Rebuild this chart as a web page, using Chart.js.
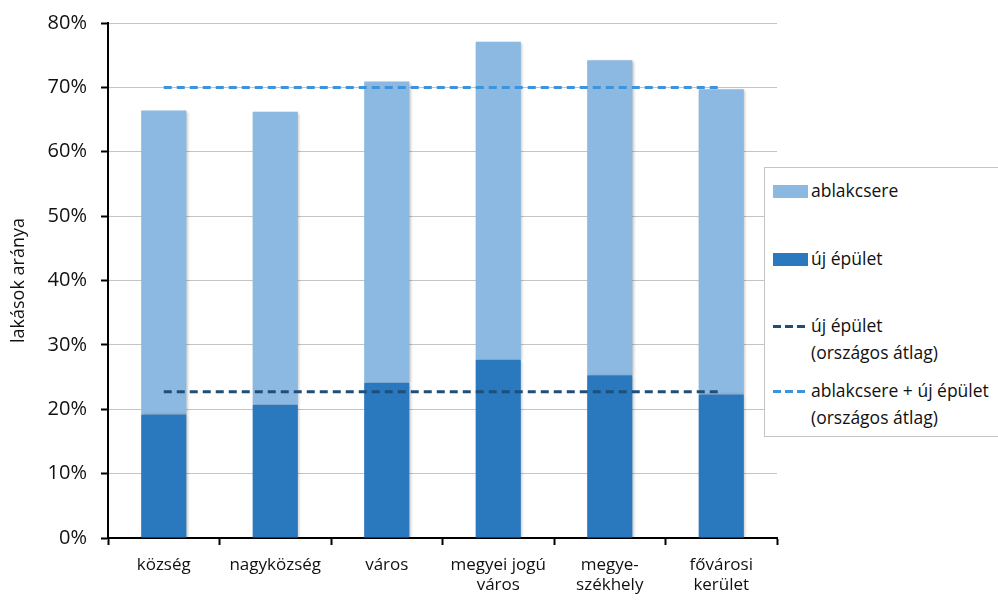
<!DOCTYPE html>
<html>
<head>
<meta charset="utf-8">
<script src="https://cdn.jsdelivr.net/npm/chart.js@4/dist/chart.umd.min.js"></script>
<style>
  html, body { margin: 0; padding: 0; background: #fff; }
  #wrap { position: relative; width: 998px; height: 600px; }
  #legend {
    position: absolute; left: 764px; top: 167px; width: 240px; height: 270px;
    box-sizing: border-box; border: 1px solid #c4c4c4; background: #fff;
    font-family: "Open Sans", sans-serif; font-size: 17.5px; color: #111;
  }
  .item { position: absolute; left: 8px; display: flex; align-items: flex-start; line-height: 27px; white-space: nowrap; }
  .sw { width: 35px; height: 13px; margin-top: 8px; margin-right: 3px; flex: none; }
  .dash { width: 35px; height: 3px; margin-top: 13px; margin-right: 3px; flex: none; }
</style>
</head>
<body>
<div id="wrap">
  <canvas id="c" width="998" height="600"></canvas>
  <div id="legend"></div>
</div>
<script>
// settlement types
const categories = [
  "község",
  "nagyközség",
  "város",
  ["megyei jogú", "város"],
  ["megye-", "székhely"],
  ["fővárosi", "kerület"]
];
// share of dwellings (%)
const ujEpulet    = [19.2, 20.7, 24.1, 27.7, 25.3, 22.3];
const ablakcsere  = [47.2, 45.5, 46.8, 49.4, 48.9, 47.4];
// national averages (%)
const ujEpuletAtlag = 22.7;
const osszesAtlag   = 70.0;
const avgUj    = categories.map(() => ujEpuletAtlag);
const avgOssz  = categories.map(() => osszesAtlag);

const yTicks = [0, 10, 20, 30, 40, 50, 60, 70, 80];

const colLight = "#8cb9e1";
const colDark  = "#2a78bd";
const colDashDark  = "#1f4e79";
const colDashLight = "#3d93dc";

const FONT = "'Open Sans', sans-serif";

const barShadow = {
  id: "barShadow",
  beforeDatasetDraw(chart, args) {
    if (chart.data.datasets[args.index].type === "bar") {
      const ctx = chart.ctx;
      ctx.save();
      ctx.shadowColor = "rgba(0,0,0,0.28)";
      ctx.shadowBlur = 3;
      ctx.shadowOffsetX = 1.5;
      ctx.shadowOffsetY = 1;
    }
  },
  afterDatasetDraw(chart, args) {
    if (chart.data.datasets[args.index].type === "bar") chart.ctx.restore();
  }
};

const chart = new Chart(document.getElementById("c"), {
  data: {
    labels: categories,
    datasets: [
      { type: "bar", label: "új épület", data: ujEpulet, backgroundColor: colDark,
        stack: "bars", order: 2, categoryPercentage: 1, barPercentage: 0.405 },
      { type: "bar", label: "ablakcsere", data: ablakcsere, backgroundColor: colLight,
        stack: "bars", order: 2, categoryPercentage: 1, barPercentage: 0.405 },
      { type: "line", label: "új épület\n(országos átlag)", data: avgUj, stack: "a1",
        borderColor: colDashDark, borderWidth: 3, borderDash: [8, 5], pointRadius: 0, order: 1 },
      { type: "line", label: "ablakcsere + új épület\n(országos átlag)", data: avgOssz, stack: "a2",
        borderColor: colDashLight, borderWidth: 3, borderDash: [8, 5], pointRadius: 0, order: 1 }
    ]
  },
  options: {
    responsive: false,
    animation: false,
    layout: { padding: { top: 23, right: 221, bottom: 0, left: 0 } },
    plugins: { legend: { display: false }, tooltip: { enabled: false } },
    scales: {
      x: {
        stacked: true,
        offset: true,
        grid: { drawOnChartArea: false, offset: true, tickLength: 7, tickColor: "#000", tickWidth: 2 },
        border: { color: "#000", width: 2 },
        ticks: { color: "#111", font: { family: FONT, size: 17 }, padding: 10, maxRotation: 0 },
        afterFit(s) { s.height = 62; }
      },
      y: {
        stacked: true,
        min: 0, max: 80,
        afterBuildTicks(s) { s.ticks = yTicks.map(v => ({ value: v })); },
        grid: { color: "#c4c4c4", lineWidth: 1, tickLength: 7, tickColor: "#000", tickWidth: 2 },
        border: { color: "#000", width: 2 },
        ticks: { color: "#111", font: { family: FONT, size: 20 }, padding: 14,
                 callback: v => v + "%" },
        title: { display: true, text: "lakások aránya", color: "#111",
                 font: { family: FONT, size: 18 }, padding: { top: 8, bottom: 0 } },
        afterFit(s) { s.width = 108; s.paddingTop = 0; s.paddingBottom = 0; }
      }
    }
  },
  plugins: [barShadow]
});

// legend
const legendItems = [
  { kind: "box",  color: colLight,     text: chart.data.datasets[1].label, top: 9 },
  { kind: "box",  color: colDark,      text: chart.data.datasets[0].label, top: 77 },
  { kind: "dash", color: colDashDark,  text: chart.data.datasets[2].label, top: 144 },
  { kind: "dash", color: colDashLight, text: chart.data.datasets[3].label, top: 209 }
];
const lg = document.getElementById("legend");
legendItems.forEach(it => {
  const row = document.createElement("div");
  row.className = "item";
  row.style.top = it.top + "px";
  const sw = document.createElement("div");
  if (it.kind === "box") {
    sw.className = "sw";
    sw.style.background = it.color;
  } else {
    sw.className = "dash";
    sw.style.background = `repeating-linear-gradient(to right, ${it.color} 0 8px, transparent 8px 12px)`;
  }
  const tx = document.createElement("div");
  tx.innerHTML = it.text.split("\n").join("<br>");
  row.appendChild(sw);
  row.appendChild(tx);
  lg.appendChild(row);
});
</script>
</body>
</html>
